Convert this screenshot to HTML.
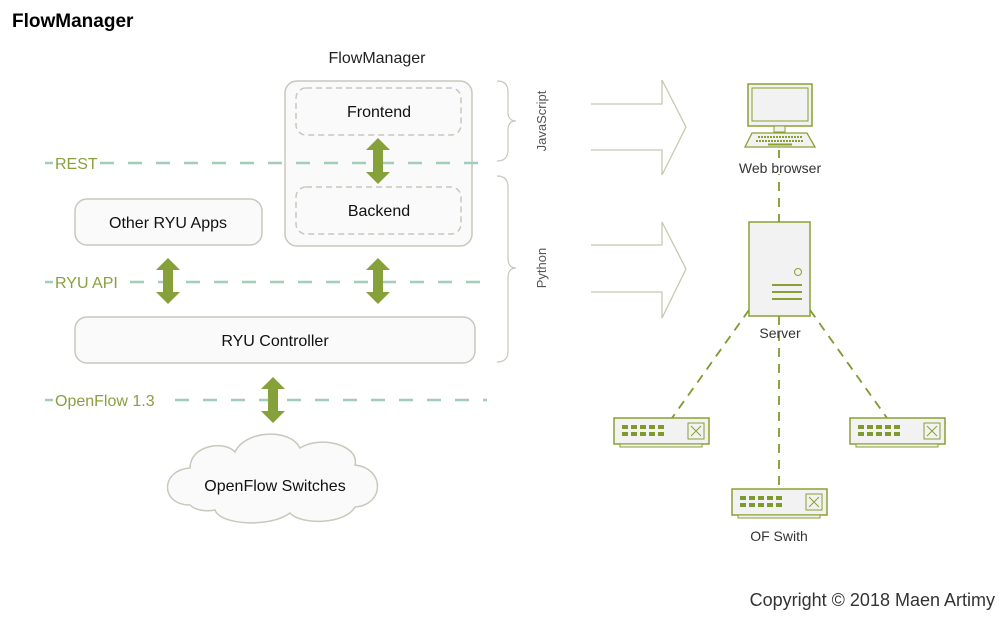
<!DOCTYPE html>
<html><head><meta charset="utf-8"><style>
body{margin:0;background:#fff;width:1004px;height:621px;overflow:hidden;font-family:"Liberation Sans",sans-serif}
</style></head><body>
<svg width="1004" height="621" viewBox="0 0 1004 621" xmlns="http://www.w3.org/2000/svg" font-family="Liberation Sans, sans-serif">
<defs>
<g id="dar"><polygon points="0,-23 12,-11 5,-11 5,11 12,11 0,23 -12,11 -5,11 -5,-11 -12,-11" fill="#86a03a"/></g>
<g id="sw">
<rect x="0" y="0" width="95" height="26" fill="#f2f2f2" stroke="#8aa033" stroke-width="1.5"/>
<rect x="6" y="26" width="82" height="3" fill="#f2f2f2" stroke="#8aa033" stroke-width="1"/>
<g fill="#7e9a2e"><rect x="8" y="7" width="6" height="4"/><rect x="17" y="7" width="6" height="4"/><rect x="26" y="7" width="6" height="4"/><rect x="35" y="7" width="6" height="4"/><rect x="44" y="7" width="6" height="4"/>
<rect x="8" y="14" width="6" height="4"/><rect x="17" y="14" width="6" height="4"/><rect x="26" y="14" width="6" height="4"/><rect x="35" y="14" width="6" height="4"/><rect x="44" y="14" width="6" height="4"/></g>
<rect x="74" y="5" width="16" height="16" fill="none" stroke="#8aa033"/>
<path d="M77 8 L87 18 M87 8 L77 18" stroke="#8aa033"/>
</g>
</defs>
<text x="12" y="27" font-size="19" font-weight="bold" fill="#000">FlowManager</text>
<text x="377" y="63" font-size="16" text-anchor="middle" fill="#222">FlowManager</text>
<!-- FlowManager box -->
<rect x="285" y="81" width="187" height="165" rx="12" fill="#fafafa" stroke="#c8c8bc" stroke-width="1.5"/>
<rect x="296" y="88" width="165" height="47" rx="10" fill="#fafafa" stroke="#c8c8bc" stroke-width="1.5" stroke-dasharray="6,4"/>
<rect x="296" y="187" width="165" height="47" rx="10" fill="#fafafa" stroke="#c8c8bc" stroke-width="1.5" stroke-dasharray="6,4"/>
<text x="379" y="117" font-size="16" text-anchor="middle" fill="#111">Frontend</text>
<text x="379" y="216" font-size="16" text-anchor="middle" fill="#111">Backend</text>
<rect x="75" y="199" width="187" height="46" rx="12" fill="#fafafa" stroke="#c8c8bc" stroke-width="1.5"/>
<text x="168" y="228" font-size="16" text-anchor="middle" fill="#111">Other RYU Apps</text>
<rect x="75" y="317" width="400" height="46" rx="12" fill="#fafafa" stroke="#c8c8bc" stroke-width="1.5"/>
<text x="275" y="346" font-size="16" text-anchor="middle" fill="#111">RYU Controller</text>
<!-- dashed lines -->
<g stroke="#a2cdb8" stroke-width="2.5" stroke-dasharray="14,14">
<line x1="100" y1="163" x2="487" y2="163"/>
<line x1="130" y1="282" x2="487" y2="282"/>
<line x1="175" y1="400" x2="487" y2="400"/>
</g>
<g stroke="#a2cdb8" stroke-width="2.5"><line x1="45" y1="163" x2="53" y2="163"/><line x1="45" y1="282" x2="53" y2="282"/><line x1="45" y1="400" x2="53" y2="400"/></g>
<g font-size="16" fill="#8aa040">
<text x="55" y="169">REST</text><text x="55" y="288">RYU API</text><text x="55" y="406">OpenFlow 1.3</text></g>
<use href="#dar" x="378" y="161"/>
<use href="#dar" x="168" y="281"/>
<use href="#dar" x="378" y="281"/>
<use href="#dar" x="273" y="400"/>
<!-- cloud -->
<path d="M190 505 C160 505 160 470 190 468 C190 445 225 440 235 452 C245 430 290 428 300 448 C320 435 360 445 355 465 C385 468 385 505 355 507 C345 525 300 525 290 513 C270 528 220 525 215 510 C205 512 195 510 190 505 Z" fill="#fafafa" stroke="#c8c8bc" stroke-width="1.5"/>
<text x="275" y="491" font-size="16" text-anchor="middle" fill="#111">OpenFlow Switches</text>
<!-- braces -->
<g fill="none" stroke="#c8c8bc" stroke-width="1.2">
<path d="M497 81 Q508 81 508 92 L508 112 Q508 121 516 121 Q508 121 508 130 L508 150 Q508 161 497 161"/>
<path d="M497 176 Q508 176 508 187 L508 258 Q508 268 516 268 Q508 268 508 278 L508 351 Q508 362 497 362"/>
</g>
<text transform="translate(546,121) rotate(-90)" font-size="13" text-anchor="middle" fill="#555">JavaScript</text>
<text transform="translate(546,268) rotate(-90)" font-size="13" text-anchor="middle" fill="#555">Python</text>
<!-- big arrows -->
<g fill="none" stroke="#c8c8b0" stroke-width="1.3">
<polyline points="591,104 662,104 662,80 686,127 662,175 662,150 591,150"/>
<polyline points="591,245 662,245 662,222 686,269 662,318 662,292 591,292"/>
</g>
<!-- connection lines -->
<g stroke="#7e9a2e" stroke-width="1.8" stroke-dasharray="9,7" fill="none">
<line x1="779" y1="150" x2="779" y2="222"/>
<line x1="779" y1="316" x2="779" y2="490"/>
<line x1="749" y1="310" x2="672" y2="418"/>
<line x1="810" y1="310" x2="887" y2="418"/>
</g>
<!-- monitor -->
<rect x="748" y="84" width="64" height="42" fill="#f2f2f2" stroke="#8aa033" stroke-width="1.5"/>
<rect x="752" y="88" width="56" height="33" fill="none" stroke="#8aa033"/>
<rect x="774" y="126" width="11" height="6" fill="#f2f2f2" stroke="#8aa033"/>
<polygon points="752,133 807,133 815,147 745,147" fill="#f2f2f2" stroke="#8aa033" stroke-width="1.3"/>
<g stroke="#8aa033" stroke-width="2" stroke-dasharray="2,1"><line x1="758" y1="137" x2="802" y2="137"/><line x1="756" y1="141" x2="804" y2="141"/></g>
<line x1="768" y1="144.5" x2="792" y2="144.5" stroke="#8aa033" stroke-width="2"/>
<rect x="732" y="158" width="96" height="16" fill="#fff"/>
<text x="780" y="173" font-size="14" text-anchor="middle" fill="#333">Web browser</text>
<!-- server -->
<rect x="749" y="222" width="61" height="94" fill="#f2f2f2" stroke="#8aa033" stroke-width="1.5"/>
<circle cx="798" cy="272" r="3.5" fill="none" stroke="#8aa033"/>
<g stroke="#8aa033" stroke-width="2"><line x1="772" y1="285" x2="802" y2="285"/><line x1="772" y1="292" x2="802" y2="292"/><line x1="772" y1="299" x2="802" y2="299"/></g>
<text x="780" y="338" font-size="14" text-anchor="middle" fill="#333">Server</text>
<use href="#sw" x="614" y="418"/>
<use href="#sw" x="850" y="418"/>
<use href="#sw" x="732" y="489"/>
<text x="779" y="541" font-size="14" text-anchor="middle" fill="#333">OF Swith</text>
<text x="995" y="606" font-size="18" text-anchor="end" fill="#333">Copyright © 2018 Maen Artimy</text>
</svg>
</body></html>
